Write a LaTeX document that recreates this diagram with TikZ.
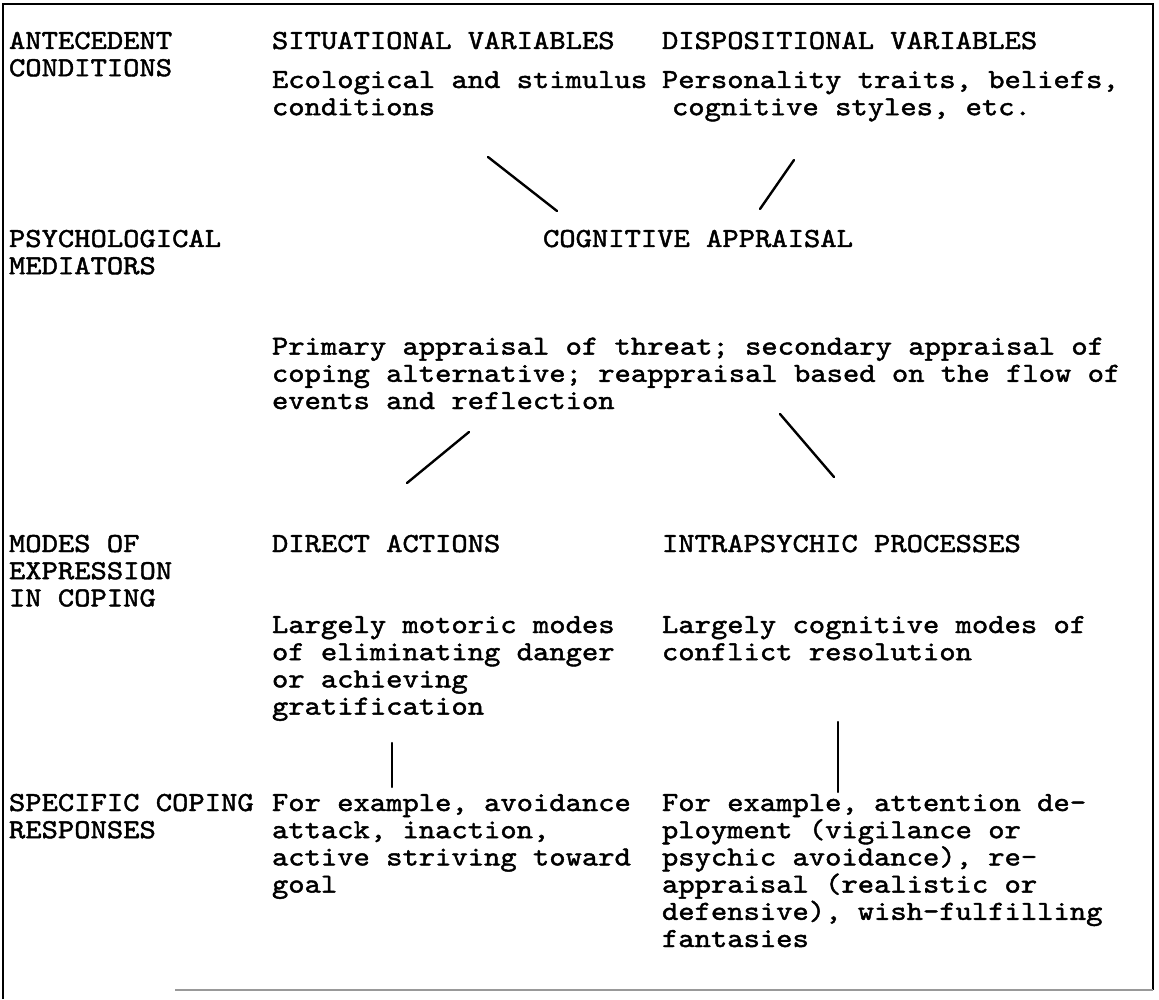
\documentclass[tikz,border=0pt]{standalone}
\usepackage{fontspec}
\newfontfamily\tw{lmmono10-regular.otf}[FakeStretch=1.13,FakeBold=1.6]
\begin{document}
\begin{tikzpicture}[x=1pt,y=-1pt,
  txt/.style={anchor=base west,inner sep=0pt,outer sep=0pt,align=left,
    font=\tw\fontsize{27.5}{27.2}\selectfont},
  link/.style={line width=2.4pt,line cap=round},
  frame/.style={line width=1.8pt}]
\useasboundingbox (0,0) rectangle (1159,1000);
% frame
\draw[frame] (3,999) -- (3,4) -- (1153,4) -- (1153,990);
\draw[line width=1.4pt,black!40] (175,990) -- (1153,990);
% antecedent row (base anchor = last line's baseline)
\node[txt] (ante) at (9,76.2) {ANTECEDENT\\CONDITIONS};
\node[txt] (sit) at (272,49) {SITUATIONAL VARIABLES};
\node[txt] (sitd) at (272,115.2) {Ecological and stimulus\\conditions};
\node[txt] (disp) at (662,49) {DISPOSITIONAL VARIABLES};
\node[txt] (dispd) at (662,88) {Personality traits, beliefs,};
\node[txt] (dispd2) at (672,115.2) {cognitive styles, etc.};
% mediators
\node[txt] (psy) at (9,274.2) {PSYCHOLOGICAL\\MEDIATORS};
\node[txt] (cog) at (543,247) {COGNITIVE APPRAISAL};
\node[txt] (cogd) at (272,409) {Primary appraisal of threat; secondary appraisal of\\coping alternative; reappraisal based on the flow of\\events and reflection};
% modes
\node[txt] (modes) at (9,606.4) {MODES OF\\EXPRESSION\\IN COPING};
\node[txt] (dir) at (272,552) {DIRECT ACTIONS};
\node[txt] (dird) at (272,714.6) {Largely motoric modes\\of eliminating danger\\or achieving\\gratification};
\node[txt] (intra) at (662,552) {INTRAPSYCHIC PROCESSES};
\node[txt] (intrad) at (662,660.2) {Largely cognitive modes of\\conflict resolution};
% responses
\node[txt] (spec) at (9,838.2) {SPECIFIC COPING\\RESPONSES};
\node[txt] (dirr) at (272,892.6) {For example, avoidance\\attack, inaction,\\active striving toward\\goal};
\node[txt] (intrar) at (662,947) {For example, attention de-\\ployment (vigilance or\\psychic avoidance), re-\\appraisal (realistic or\\defensive), wish-fulfilling\\fantasies};
% connectors
\coordinate (l1a) at (488,157); \coordinate (l1b) at (557,211);
\coordinate (l2a) at (794,160); \coordinate (l2b) at (760,209);
\coordinate (l3a) at (469,432); \coordinate (l3b) at (407,483);
\coordinate (l4a) at (780,414); \coordinate (l4b) at (834,477);
\coordinate (l5a) at (392,743); \coordinate (l5b) at (392,787);
\coordinate (l6a) at (838,722); \coordinate (l6b) at (838,792);
\draw[link] (l1a) -- (l1b);
\draw[link] (l2a) -- (l2b);
\draw[link] (l3a) -- (l3b);
\draw[link] (l4a) -- (l4b);
\draw[link] (l5a) -- (l5b);
\draw[link] (l6a) -- (l6b);
\end{tikzpicture}
\end{document}
